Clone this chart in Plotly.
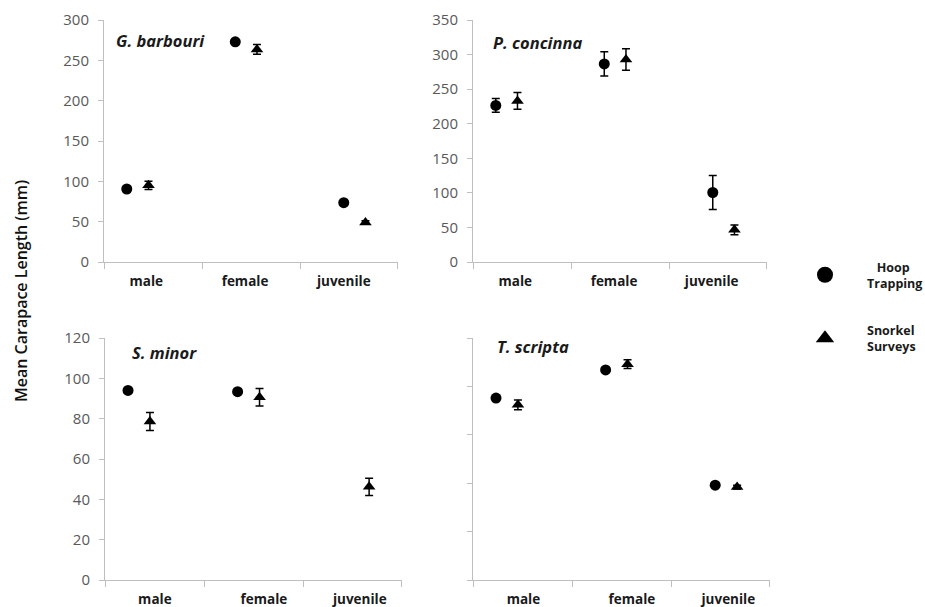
import plotly.graph_objects as go

categories = ["male", "female", "juvenile"]
species = ["G. barbouri", "P. concinna", "S. minor", "T. scripta"]

# Hoop trapping (circles)
gb_hoop = [90.5, 273.0, 73.5]
gb_hoop_err = [2, 2, 2]
pc_hoop = [226.5, 286.5, 100.5]
pc_hoop_err = [10, 17.5, 24.5]
sm_hoop = [94.0, 93.4, None]
sm_hoop_err = [1, 1, 0]
ts_hoop = [188, 217, 98]
ts_hoop_err = [2, 2, 2]

# Snorkel surveys (triangles)
gb_snork = [95.0, 263.5, 49.0]
gb_snork_err = [5, 6, 2]
pc_snork = [233.0, 293.0, 46.5]
pc_snork_err = [12, 15.5, 7]
sm_snork = [78.6, 90.6, 46.2]
sm_snork_err = [4.5, 4.3, 4.3]
ts_snork = [181, 223, 96]
ts_snork_err = [5, 4.5, 2]

y_ranges = [[0, 300], [0, 350], [0, 120], [0, 250]]
y_dticks = [50, 50, 20, 50]
show_y_labels = [True, True, True, False]

hoop = [gb_hoop, pc_hoop, sm_hoop, ts_hoop]
hoop_err = [gb_hoop_err, pc_hoop_err, sm_hoop_err, ts_hoop_err]
snork = [gb_snork, pc_snork, sm_snork, ts_snork]
snork_err = [gb_snork_err, pc_snork_err, sm_snork_err, ts_snork_err]

W, H = 925, 607
# panel boxes in pixels: (left, right, top, bottom)
boxes = [(104, 398, 20, 262), (473, 767, 20, 262), (105, 402, 338, 580), (473, 770, 338, 580)]
title_pos = [(160, 41), (537, 42), (164, 352), (533, 346)]
label_pos = [[1.18, 2.09, 3.0], [1.18, 2.09, 2.99], [1.245, 2.24, 3.115], [1.25, 2.24, 3.12]]

idx = [i + 1 for i in range(len(categories))]
hoop_x = [v for v in idx]
snork_x = [v + 0.2 for v in idx]
x_range = [0.79, 3.5]
step = (x_range[1] - x_range[0]) / 3
bounds = [x_range[0] + 0.0005, x_range[0] + step, x_range[0] + 2 * step, x_range[1] - 0.0005]

AXC = "#BFBFBF"
FONT = "Open Sans"

fig = go.Figure()
for p in range(4):
    xa = "x" if p == 0 else f"x{p+1}"
    ya = "y" if p == 0 else f"y{p+1}"
    fig.add_trace(go.Scatter(
        x=hoop_x, y=hoop[p], xaxis=xa, yaxis=ya, mode="markers",
        marker=dict(symbol="circle", size=11, color="black"),
        error_y=dict(type="data", array=hoop_err[p], color="black", thickness=1.5, width=4),
        showlegend=False, name="Hoop Trapping"))
    fig.add_trace(go.Scatter(
        x=snork_x, y=snork[p], xaxis=xa, yaxis=ya, mode="markers",
        marker=dict(symbol="triangle-up", size=11, color="black"),
        error_y=dict(type="data", array=snork_err[p], color="black", thickness=1.5, width=4),
        showlegend=False, name="Snorkel Surveys"))

# legend entries
fig.add_trace(go.Scatter(x=[None], y=[None], mode="markers", name="&nbsp;&nbsp;&nbsp;Hoop<br>Trapping",
                         marker=dict(symbol="circle", size=20, color="black"), legendgroup="a"))
fig.add_trace(go.Scatter(x=[None], y=[None], mode="markers", name="Snorkel<br>Surveys",
                         marker=dict(symbol="triangle-up", size=20, color="black"), legendgroup="b"))

layout = dict(width=W, height=H, margin=dict(l=0, r=0, t=0, b=0, autoexpand=False),
              paper_bgcolor="white", plot_bgcolor="white",
              font=dict(family=FONT, color="#404040"))
annotations = []
for p in range(4):
    l, r, t, b = boxes[p]
    xk = "xaxis" if p == 0 else f"xaxis{p+1}"
    yk = "yaxis" if p == 0 else f"yaxis{p+1}"
    ya = "y" if p == 0 else f"y{p+1}"
    xa = "x" if p == 0 else f"x{p+1}"
    layout[xk] = dict(domain=[l / W, r / W], anchor=ya, range=x_range,
                      showgrid=False, zeroline=False, showline=True, linecolor=AXC, linewidth=1,
                      tickmode="array", tickvals=label_pos[p], ticktext=categories,
                      ticks="", ticklabelstandoff=7,
                      tickfont=dict(family=FONT, size=13.5, color="#1a1a1a", weight="bold"),
                      minor=dict(tickmode="array", tickvals=bounds, ticks="outside",
                                 ticklen=6, tickcolor=AXC, tickwidth=1, showgrid=False),
                      fixedrange=True)
    layout[yk] = dict(domain=[1 - b / H, 1 - t / H], anchor=xa, range=y_ranges[p],
                      dtick=y_dticks[p], tick0=0,
                      showgrid=False, zeroline=False, showline=True, linecolor=AXC, linewidth=1,
                      ticks="outside", ticklen=5, tickcolor=AXC,
                      showticklabels=show_y_labels[p], ticklabelstandoff=6,
                      tickfont=dict(family=FONT, size=15, color="#595959"),
                      fixedrange=True)
    tx, ty = title_pos[p]
    annotations.append(dict(text=f"<b><i>{species[p]}</i></b>", x=tx / W, y=1 - ty / H,
                            xref="paper", yref="paper", showarrow=False,
                            xanchor="center", yanchor="middle",
                            font=dict(family=FONT, size=16.5, color="#1a1a1a")))

annotations.append(dict(text="Mean Carapace Length (mm)", x=21 / W, y=1 - 291 / H,
                        xref="paper", yref="paper", showarrow=False, textangle=-90,
                        xanchor="center", yanchor="middle",
                        font=dict(family=FONT, size=16, color="#111111", weight=600)))
layout["annotations"] = annotations
layout["showlegend"] = True
layout["legend"] = dict(x=783 / W, y=1 - 252 / H, xanchor="left", yanchor="top",
                        bgcolor="rgba(0,0,0,0)", tracegroupgap=28, itemwidth=74,
                        font=dict(family=FONT, size=12.5, color="#1a1a1a", weight="bold"))
fig.update_layout(**layout)

fig.write_html("out.html", config={"displayModeBar": False},
               post_script="document.body.style.margin='0';document.body.style.overflow='hidden';")
